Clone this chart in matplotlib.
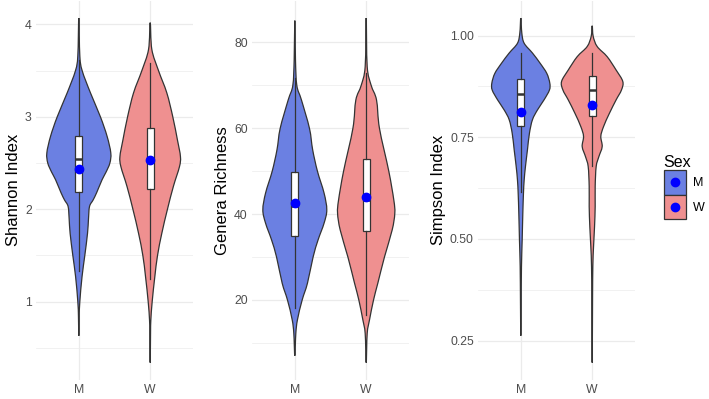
import matplotlib
matplotlib.use("Agg")
import matplotlib.pyplot as plt
from matplotlib.patches import Patch, PathPatch
from matplotlib.path import Path
from matplotlib.lines import Line2D
from matplotlib.legend_handler import HandlerTuple, HandlerLine2D

plt.rcParams["font.family"] = ["Liberation Sans", "DejaVu Sans"]

BLUE = "#6b80e2"
PINK = "#ef9090"
EDGE = "#333333"
GRID = "#ebebeb"
TICK = "#4d4d4d"

groups = ["M", "W"]
titles = ["Shannon Index", "Genera Richness", "Simpson Index"]

# violin outlines: heights and half widths (x units)
shannon_m_y = [4.07, 3.66, 3.50, 3.26, 3.00, 2.79, 2.61, 2.50, 2.40, 2.32, 2.18, 2.10, 2.03, 1.89, 1.74, 1.50, 1.27, 1.00, 0.84, 0.63]
shannon_m_w = [0.0, 0.014, 0.047, 0.163, 0.303, 0.396, 0.448, 0.435, 0.380, 0.326, 0.250, 0.200, 0.150, 0.135, 0.122, 0.084, 0.045, 0.014, 0.005, 0.0]
shannon_w_y = [4.02, 3.73, 3.50, 3.26, 3.00, 2.75, 2.57, 2.46, 2.25, 2.00, 1.74, 1.50, 1.27, 1.00, 0.80, 0.66, 0.34]
shannon_w_w = [0.0, 0.023, 0.117, 0.233, 0.317, 0.382, 0.424, 0.410, 0.326, 0.242, 0.163, 0.103, 0.065, 0.028, 0.009, 0.005, 0.0]

genera_m_y = [85.1, 76.0, 70.0, 66.6, 60.0, 55.0, 50.0, 44.9, 41.0, 37.9, 34.0, 30.0, 23.9, 20.0, 15.4, 12.2, 7.0]
genera_m_w = [0.0, 0.009, 0.028, 0.093, 0.205, 0.250, 0.317, 0.410, 0.448, 0.410, 0.326, 0.256, 0.177, 0.103, 0.037, 0.014, 0.0]
genera_w_y = [85.7, 74.4, 70.0, 66.6, 60.0, 50.0, 43.3, 40.2, 36.3, 30.0, 23.9, 20.0, 15.4, 12.2, 5.4]
genera_w_w = [0.0, 0.014, 0.070, 0.145, 0.186, 0.317, 0.387, 0.401, 0.364, 0.256, 0.163, 0.103, 0.047, 0.014, 0.0]

simpson_m_y = [1.043, 1.006, 0.981, 0.957, 0.932, 0.907, 0.883, 0.866, 0.842, 0.817, 0.793, 0.760, 0.719, 0.678, 0.645, 0.612, 0.563, 0.498, 0.432, 0.350, 0.262]
simpson_m_w = [0.0, 0.014, 0.047, 0.163, 0.270, 0.364, 0.406, 0.401, 0.326, 0.233, 0.163, 0.121, 0.093, 0.065, 0.047, 0.037, 0.028, 0.019, 0.009, 0.005, 0.0]
simpson_w_y = [1.024, 0.998, 0.973, 0.948, 0.915, 0.887, 0.866, 0.842, 0.809, 0.776, 0.752, 0.727, 0.702, 0.678, 0.629, 0.580, 0.530, 0.481, 0.432, 0.350, 0.196]
simpson_w_w = [0.0, 0.014, 0.070, 0.210, 0.336, 0.429, 0.410, 0.336, 0.242, 0.159, 0.121, 0.140, 0.093, 0.056, 0.042, 0.042, 0.033, 0.019, 0.009, 0.005, 0.0]

# box stats: whisker low, q1, median, q3, whisker high, mean
shannon_box = [[1.33, 2.19, 2.54, 2.79, 3.62, 2.44], [1.25, 2.22, 2.52, 2.88, 3.58, 2.53]]
genera_box = [[18.1, 35.0, 42.0, 49.9, 71.7, 42.5], [16.5, 36.1, 43.4, 52.9, 72.9, 43.9]]
simpson_box = [[0.616, 0.778, 0.856, 0.893, 0.958, 0.813], [0.680, 0.802, 0.865, 0.900, 0.958, 0.829]]

yticks = [[1, 2, 3, 4], [20, 40, 60, 80], [0.25, 0.50, 0.75, 1.00]]
yminor = [[0.5, 1.5, 2.5, 3.5], [10, 30, 50, 70], [0.375, 0.625, 0.875]]
yticklabels = [["1", "2", "3", "4"], ["20", "40", "60", "80"], ["0.25", "0.50", "0.75", "1.00"]]

violins = [
    [(shannon_m_y, shannon_m_w), (shannon_w_y, shannon_w_w)],
    [(genera_m_y, genera_m_w), (genera_w_y, genera_w_w)],
    [(simpson_m_y, simpson_m_w), (simpson_w_y, simpson_w_w)],
]
boxes = [shannon_box, genera_box, simpson_box]


def violin_path(x, ys, ws):
    # closed outline through the read points, drawn as smooth bezier segments
    pts = [(x + w, y) for y, w in zip(ys, ws)]
    pts += [(x - w, y) for y, w in zip(ys[::-1][1:-1], ws[::-1][1:-1])]
    n = len(pts)
    verts = [pts[0]]
    codes = [Path.MOVETO]
    for k in range(n):
        p0, p1, p2, p3 = pts[k - 1], pts[k], pts[(k + 1) % n], pts[(k + 2) % n]
        c1 = (p1[0] + (p2[0] - p0[0]) / 6, p1[1] + (p2[1] - p0[1]) / 6)
        c2 = (p2[0] - (p3[0] - p1[0]) / 6, p2[1] - (p3[1] - p1[1]) / 6)
        verts += [c1, c2, p2]
        codes += [Path.CURVE4] * 3
    return Path(verts, codes)


class CenteredMarker(HandlerLine2D):
    # put the legend dot in the middle of the key square
    def create_artists(self, legend, orig_handle, xdescent, ydescent, width, height,
                       fontsize, trans):
        return super().create_artists(legend, orig_handle, xdescent, 2 * ydescent,
                                      width, height, fontsize, trans)


fig = plt.figure(figsize=(7.09, 3.99), dpi=100)
lefts = [36 / 709, 252 / 709, 478 / 709]
colors = [BLUE, PINK]

for i in range(3):
    ax = fig.add_axes([lefts[i], 0.048, 157 / 709, 0.95])
    allys = violins[i][0][0] + violins[i][1][0]
    lo, hi = min(allys), max(allys)
    pad = 0.05 * (hi - lo)
    ax.set_ylim(lo - pad, hi + pad)
    ax.set_xlim(0.4, 2.6)

    for j, (ys, ws) in enumerate(violins[i]):
        ax.add_patch(PathPatch(violin_path(j + 1, ys, ws), facecolor=colors[j],
                               edgecolor=EDGE, lw=0.9, zorder=2))

    stats = []
    for j, b in enumerate(boxes[i]):
        stats.append(dict(whislo=b[0], q1=b[1], med=b[2], q3=b[3], whishi=b[4],
                          mean=b[5], fliers=[], label=groups[j]))
    ax.bxp(stats, positions=[1, 2], widths=0.1, showcaps=False, showfliers=False,
           showmeans=True, patch_artist=True,
           boxprops=dict(facecolor="white", edgecolor=EDGE, lw=0.9),
           whiskerprops=dict(color=EDGE, lw=0.9),
           medianprops=dict(color=EDGE, lw=1.8),
           meanprops=dict(marker="o", markerfacecolor="blue", markeredgecolor="blue",
                          markersize=6),
           zorder=3)

    ax.set_yticks(yticks[i])
    ax.set_yticklabels(yticklabels[i])
    ax.set_yticks(yminor[i], minor=True)
    ax.set_xticks([1, 2])
    ax.set_xticklabels(groups)
    ax.grid(True, which="major", color=GRID, lw=0.9, zorder=0)
    ax.grid(True, which="minor", axis="y", color=GRID, lw=0.5, zorder=0)
    ax.set_axisbelow(True)
    for s in ax.spines.values():
        s.set_visible(False)
    ax.tick_params(which="both", length=0, colors=TICK, labelsize=8.8, pad=3)
    ax.set_ylabel(titles[i], fontsize=12, color="black", labelpad=3)

handles = [(Patch(facecolor=c, edgecolor=EDGE, lw=0.9),
            Line2D([], [], marker="o", color="blue", linestyle="", markersize=6))
           for c in colors]
leg = fig.legend(handles, groups,
                 handler_map={tuple: HandlerTuple(ndivide=1, pad=0), Line2D: CenteredMarker()},
                 loc="upper left", bbox_to_anchor=(655 / 709, 1 - 146 / 399),
                 frameon=False, title="Sex", title_fontsize=11.5, fontsize=9,
                 handlelength=1.8, handleheight=2.6, labelspacing=0.05,
                 handletextpad=0.5, borderpad=0.2, alignment="left")

fig.savefig("out.png", dpi=100)
